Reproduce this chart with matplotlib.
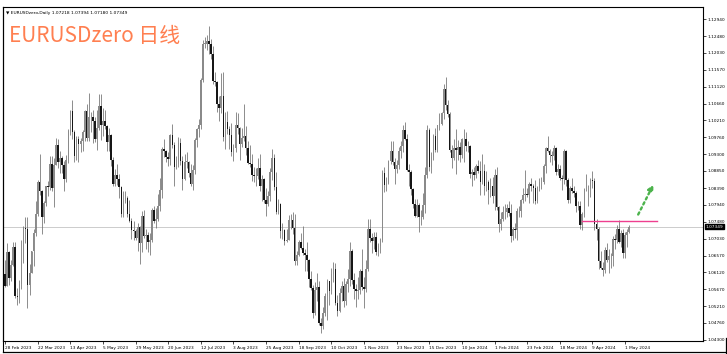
import numpy as np
import matplotlib
matplotlib.use("Agg")
import matplotlib.pyplot as plt
from matplotlib.transforms import blended_transform_factory
from matplotlib.lines import Line2D

# EURUSD daily bars, 28 Feb 2023 .. 3 May 2024 (one line per month)
opens = [
    1.0608,
    1.0576, 1.0668, 1.0596, 1.0633, 1.0681, 1.0548, 1.0545, 1.0582, 1.0642, 1.0731, 1.0729, 1.0577, 1.0610, 1.0669, 1.0718, 1.0770, 1.0856, 1.0831, 1.0760, 1.0800, 1.0845, 1.0843, 1.0905,
    1.0839, 1.0901, 1.0955, 1.0908, 1.0920, 1.0902, 1.0862, 1.0914, 1.0993, 1.1047, 1.0990, 1.0925, 1.0972, 1.0958, 1.0965, 1.0990, 1.1046, 1.0975, 1.1030, 1.1029,
    1.1019, 1.0972, 1.1000, 1.1060, 1.1010, 1.1020, 1.1005, 1.0962, 1.0983, 1.0914, 1.0850, 1.0875, 1.0862, 1.0843, 1.0770, 1.0805, 1.0812, 1.0770, 1.0751, 1.0725, 1.0723, 1.0705, 1.0735,
    1.0690, 1.0763, 1.0710, 1.0713, 1.0693, 1.0700, 1.0781, 1.0750, 1.0755, 1.0792, 1.0834, 1.0945, 1.0940, 1.0923, 1.0918, 1.0981, 1.0956, 1.0896, 1.0905, 1.0960, 1.0912, 1.0864,
    1.0910, 1.0910, 1.0880, 1.0850, 1.0887, 1.0968, 1.0997, 1.1009, 1.1130, 1.1228, 1.1228, 1.1236, 1.1227, 1.1200, 1.1128, 1.1124, 1.1064, 1.1055, 1.1086, 1.0977, 1.1016,
    1.0997, 1.0982, 1.0937, 1.0946, 1.1008, 1.1000, 1.0957, 1.0973, 1.0980, 1.0946, 1.0906, 1.0904, 1.0874, 1.0872, 1.0871, 1.0894, 1.0845, 1.0862, 1.0808, 1.0795, 1.0818, 1.0881, 1.0921,
    1.0843, 1.0775, 1.0795, 1.0723, 1.0725, 1.0697, 1.0699, 1.0752, 1.0752, 1.0732, 1.0643, 1.0660, 1.0693, 1.0677, 1.0663, 1.0658, 1.0645, 1.0594, 1.0571, 1.0503, 1.0565,
    1.0573, 1.0477, 1.0467, 1.0502, 1.0549, 1.0588, 1.0563, 1.0607, 1.0620, 1.0530, 1.0509, 1.0557, 1.0576, 1.0536, 1.0580, 1.0594, 1.0670, 1.0592, 1.0566, 1.0563, 1.0564, 1.0615,
    1.0573, 1.0568, 1.0621, 1.0728, 1.0704, 1.0697, 1.0708, 1.0668, 1.0683, 1.0700, 1.0880, 1.0848, 1.0853, 1.0912, 1.0940, 1.0909, 1.0889, 1.0902, 1.0940, 1.0953, 1.0996, 1.0971,
    1.0888, 1.0883, 1.0836, 1.0797, 1.0765, 1.0793, 1.0761, 1.0762, 1.0794, 1.0874, 1.0994, 1.0896, 1.0922, 1.0980, 1.0941, 1.1008, 1.1012, 1.1042, 1.1105, 1.1062,
    1.1038, 1.0942, 1.0920, 1.0946, 1.0941, 1.0950, 1.0929, 1.0972, 1.0970, 1.0951, 1.0951, 1.0877, 1.0883, 1.0875, 1.0898, 1.0885, 1.0855, 1.0884, 1.0845, 1.0855, 1.0833, 1.0845,
    1.0818, 1.0873, 1.0787, 1.0743, 1.0755, 1.0774, 1.0774, 1.0784, 1.0771, 1.0709, 1.0729, 1.0726, 1.0777, 1.0777, 1.0807, 1.0821, 1.0823, 1.0820, 1.0851, 1.0845, 1.0839,
    1.0804, 1.0838, 1.0855, 1.0855, 1.0898, 1.0947, 1.0938, 1.0927, 1.0925, 1.0947, 1.0883, 1.0890, 1.0867, 1.0864, 1.0940, 1.0860, 1.0807, 1.0838, 1.0830, 1.0825, 1.0790,
    1.0790, 1.0740, 1.0770, 1.0837, 1.0837, 1.0837, 1.0861, 1.0857, 1.0742, 1.0728, 1.0642, 1.0625, 1.0619, 1.0673, 1.0644, 1.0655, 1.0655, 1.0703, 1.0698, 1.0728, 1.0693, 1.0719,
    1.0665, 1.0712, 1.07218,
]
highs = [
    1.0646,
    1.0691, 1.0670, 1.0645, 1.0694, 1.0695, 1.0570, 1.0592, 1.0700, 1.0737, 1.0760, 1.0760, 1.0635, 1.0670, 1.0730, 1.0804, 1.0860, 1.0930, 1.0834, 1.0804, 1.0845, 1.0858, 1.0926, 1.0925,
    1.0920, 1.0973, 1.0970, 1.0940, 1.0925, 1.0912, 1.0927, 1.0998, 1.1050, 1.1075, 1.0995, 1.0980, 1.0980, 1.0975, 1.0995, 1.1048, 1.1066, 1.1095, 1.1044, 1.1050,
    1.1030, 1.1050, 1.1092, 1.1091, 1.1054, 1.1048, 1.1010, 1.1000, 1.0985, 1.0922, 1.0890, 1.0903, 1.0877, 1.0845, 1.0830, 1.0830, 1.0818, 1.0807, 1.0758, 1.0750, 1.0728, 1.0746, 1.0737,
    1.0778, 1.0779, 1.0729, 1.0720, 1.0717, 1.0785, 1.0790, 1.0786, 1.0823, 1.0865, 1.0950, 1.0970, 1.0942, 1.0935, 1.0985, 1.1012, 1.0962, 1.0925, 1.0976, 1.0975, 1.0925, 1.0930,
    1.0935, 1.0912, 1.0905, 1.0902, 1.0975, 1.1000, 1.1025, 1.1136, 1.1238, 1.1245, 1.1250, 1.1276, 1.1240, 1.1222, 1.1150, 1.1128, 1.1087, 1.1148, 1.1150, 1.1043, 1.1046,
    1.1005, 1.1013, 1.0957, 1.1043, 1.1042, 1.1002, 1.1000, 1.1065, 1.1005, 1.0966, 1.0954, 1.0930, 1.0896, 1.0892, 1.0920, 1.0930, 1.0875, 1.0866, 1.0840, 1.0830, 1.0893, 1.0945, 1.0930,
    1.0882, 1.0810, 1.0798, 1.0745, 1.0730, 1.0730, 1.0767, 1.0770, 1.0775, 1.0770, 1.0670, 1.0700, 1.0718, 1.0737, 1.0675, 1.0695, 1.0647, 1.0617, 1.0578, 1.0585, 1.0610,
    1.0590, 1.0490, 1.0520, 1.0557, 1.0595, 1.0590, 1.0625, 1.0640, 1.0638, 1.0550, 1.0570, 1.0590, 1.0597, 1.0588, 1.0620, 1.0695, 1.0675, 1.0610, 1.0580, 1.0600, 1.0620, 1.0675,
    1.0600, 1.0645, 1.0756, 1.0755, 1.0717, 1.0720, 1.0720, 1.0690, 1.0705, 1.0887, 1.0895, 1.0870, 1.0915, 1.0965, 1.0965, 1.0920, 1.0915, 1.0950, 1.0965, 1.1010, 1.1017, 1.0985,
    1.0905, 1.0887, 1.0840, 1.0810, 1.0810, 1.0800, 1.0780, 1.0827, 1.0895, 1.1009, 1.1000, 1.0935, 1.0985, 1.1000, 1.1010, 1.1040, 1.1045, 1.1120, 1.1139, 1.1075,
    1.1045, 1.0955, 1.0970, 1.0998, 1.0968, 1.0962, 1.0975, 1.0998, 1.0990, 1.0965, 1.0955, 1.0890, 1.0895, 1.0905, 1.0915, 1.0912, 1.0930, 1.0905, 1.0885, 1.0860, 1.0865, 1.0870,
    1.0890, 1.0895, 1.0790, 1.0775, 1.0790, 1.0795, 1.0795, 1.0805, 1.0795, 1.0735, 1.0745, 1.0785, 1.0790, 1.0810, 1.0840, 1.0888, 1.0840, 1.0855, 1.0865, 1.0850, 1.0860,
    1.0845, 1.0865, 1.0870, 1.0905, 1.0950, 1.0980, 1.0945, 1.0940, 1.0955, 1.0950, 1.0905, 1.0902, 1.0875, 1.0945, 1.0942, 1.0865, 1.0845, 1.0865, 1.0845, 1.0830, 1.0805,
    1.0805, 1.0775, 1.0840, 1.0877, 1.0848, 1.0865, 1.0885, 1.0866, 1.0757, 1.0735, 1.0670, 1.0640, 1.0680, 1.0690, 1.0675, 1.0665, 1.0710, 1.0715, 1.0740, 1.0752, 1.0725, 1.0730,
    1.0720, 1.0730, 1.07394,
]
lows = [
    1.0573,
    1.0575, 1.0577, 1.0588, 1.0630, 1.0544, 1.0524, 1.0530, 1.0566, 1.0637, 1.0690, 1.0516, 1.0550, 1.0610, 1.0630, 1.0710, 1.0763, 1.0820, 1.0714, 1.0745, 1.0790, 1.0818, 1.0835, 1.0830,
    1.0788, 1.0900, 1.0893, 1.0880, 1.0880, 1.0831, 1.0855, 1.0906, 1.0982, 1.0970, 1.0910, 1.0915, 1.0910, 1.0937, 1.0938, 1.0965, 1.0965, 1.0966, 1.0990, 1.0960,
    1.0964, 1.0942, 1.0995, 1.0967, 1.0980, 1.0998, 1.0940, 1.0940, 1.0898, 1.0845, 1.0845, 1.0848, 1.0812, 1.0760, 1.0760, 1.0800, 1.0760, 1.0747, 1.0702, 1.0700, 1.0700, 1.0670, 1.0635,
    1.0668, 1.0705, 1.0675, 1.0667, 1.0660, 1.0695, 1.0745, 1.0732, 1.0750, 1.0777, 1.0812, 1.0922, 1.0908, 1.0898, 1.0900, 1.0946, 1.0845, 1.0890, 1.0896, 1.0900, 1.0835, 1.0860,
    1.0894, 1.0870, 1.0844, 1.0833, 1.0877, 1.0950, 1.0977, 1.0998, 1.1125, 1.1215, 1.1210, 1.1200, 1.1185, 1.1120, 1.1115, 1.1043, 1.1020, 1.1040, 1.0965, 1.0945, 1.0985,
    1.0945, 1.0925, 1.0912, 1.0935, 1.0985, 1.0915, 1.0950, 1.0965, 1.0928, 1.0903, 1.0895, 1.0857, 1.0855, 1.0844, 1.0862, 1.0832, 1.0803, 1.0800, 1.0765, 1.0790, 1.0805, 1.0860, 1.0835,
    1.0770, 1.0770, 1.0705, 1.0702, 1.0686, 1.0695, 1.0698, 1.0730, 1.0715, 1.0632, 1.0632, 1.0655, 1.0675, 1.0658, 1.0617, 1.0615, 1.0573, 1.0564, 1.0490, 1.0496, 1.0535,
    1.0470, 1.0448, 1.0460, 1.0495, 1.0483, 1.0525, 1.0555, 1.0585, 1.0525, 1.0495, 1.0505, 1.0535, 1.0520, 1.0525, 1.0560, 1.0575, 1.0580, 1.0540, 1.0520, 1.0540, 1.0555, 1.0565,
    1.0517, 1.0560, 1.0615, 1.0695, 1.0665, 1.0675, 1.0660, 1.0655, 1.0665, 1.0695, 1.0828, 1.0830, 1.0850, 1.0905, 1.0900, 1.0850, 1.0880, 1.0890, 1.0920, 1.0935, 1.0967, 1.0885,
    1.0845, 1.0820, 1.0785, 1.0762, 1.0760, 1.0722, 1.0740, 1.0755, 1.0772, 1.0865, 1.0885, 1.0880, 1.0915, 1.0935, 1.0935, 1.0995, 1.1010, 1.1025, 1.1050, 1.1030,
    1.0935, 1.0892, 1.0915, 1.0877, 1.0915, 1.0910, 1.0920, 1.0910, 1.0940, 1.0935, 1.0865, 1.0845, 1.0860, 1.0865, 1.0880, 1.0820, 1.0850, 1.0820, 1.0830, 1.0795, 1.0815, 1.0800,
    1.0780, 1.0780, 1.0722, 1.0725, 1.0750, 1.0755, 1.0760, 1.0765, 1.0695, 1.0700, 1.0705, 1.0700, 1.0760, 1.0760, 1.0800, 1.0805, 1.0815, 1.0800, 1.0830, 1.0800, 1.0795,
    1.0800, 1.0830, 1.0837, 1.0850, 1.0880, 1.0935, 1.0910, 1.0900, 1.0915, 1.0875, 1.0875, 1.0860, 1.0835, 1.0850, 1.0845, 1.0800, 1.0800, 1.0825, 1.0815, 1.0775, 1.0780,
    1.0730, 1.0725, 1.0760, 1.0830, 1.0790, 1.0815, 1.0840, 1.0727, 1.0700, 1.0622, 1.0620, 1.0601, 1.0610, 1.0640, 1.0610, 1.0625, 1.0630, 1.0675, 1.0690, 1.0690, 1.0680, 1.0650,
    1.0650, 1.0680, 1.07180,
]
closes = [
    1.0576,
    1.0668, 1.0596, 1.0633, 1.0681, 1.0548, 1.0545, 1.0582, 1.0642, 1.0731, 1.0729, 1.0577, 1.0610, 1.0669, 1.0718, 1.0770, 1.0856, 1.0831, 1.0760, 1.0800, 1.0845, 1.0843, 1.0905, 1.0839,
    1.0901, 1.0955, 1.0908, 1.0920, 1.0902, 1.0862, 1.0914, 1.0993, 1.1047, 1.0990, 1.0925, 1.0972, 1.0958, 1.0965, 1.0990, 1.1046, 1.0975, 1.1030, 1.1029, 1.1019,
    1.0972, 1.1000, 1.1060, 1.1010, 1.1020, 1.1005, 1.0962, 1.0983, 1.0914, 1.0850, 1.0875, 1.0862, 1.0843, 1.0770, 1.0805, 1.0812, 1.0770, 1.0751, 1.0725, 1.0723, 1.0705, 1.0735, 1.0690,
    1.0763, 1.0710, 1.0713, 1.0693, 1.0700, 1.0781, 1.0750, 1.0755, 1.0792, 1.0834, 1.0945, 1.0940, 1.0923, 1.0918, 1.0981, 1.0956, 1.0896, 1.0905, 1.0960, 1.0912, 1.0864, 1.0910,
    1.0910, 1.0880, 1.0850, 1.0887, 1.0968, 1.0997, 1.1009, 1.1130, 1.1228, 1.1228, 1.1236, 1.1227, 1.1200, 1.1128, 1.1124, 1.1064, 1.1055, 1.1086, 1.0977, 1.1016, 1.0997,
    1.0982, 1.0937, 1.0946, 1.1008, 1.1000, 1.0957, 1.0973, 1.0980, 1.0946, 1.0906, 1.0904, 1.0874, 1.0872, 1.0871, 1.0894, 1.0845, 1.0862, 1.0808, 1.0795, 1.0818, 1.0881, 1.0921, 1.0843,
    1.0775, 1.0795, 1.0723, 1.0725, 1.0697, 1.0699, 1.0752, 1.0752, 1.0732, 1.0643, 1.0660, 1.0693, 1.0677, 1.0663, 1.0658, 1.0645, 1.0594, 1.0571, 1.0503, 1.0565, 1.0573,
    1.0477, 1.0467, 1.0502, 1.0549, 1.0588, 1.0563, 1.0607, 1.0620, 1.0530, 1.0509, 1.0557, 1.0576, 1.0536, 1.0580, 1.0594, 1.0670, 1.0592, 1.0566, 1.0563, 1.0564, 1.0615, 1.0573,
    1.0568, 1.0621, 1.0728, 1.0704, 1.0697, 1.0708, 1.0668, 1.0683, 1.0700, 1.0880, 1.0848, 1.0853, 1.0912, 1.0940, 1.0909, 1.0889, 1.0902, 1.0940, 1.0953, 1.0996, 1.0971, 1.0888,
    1.0883, 1.0836, 1.0797, 1.0765, 1.0793, 1.0761, 1.0762, 1.0794, 1.0874, 1.0994, 1.0896, 1.0922, 1.0980, 1.0941, 1.1008, 1.1012, 1.1042, 1.1105, 1.1062, 1.1038,
    1.0942, 1.0920, 1.0946, 1.0941, 1.0950, 1.0929, 1.0972, 1.0970, 1.0951, 1.0951, 1.0877, 1.0883, 1.0875, 1.0898, 1.0885, 1.0855, 1.0884, 1.0845, 1.0855, 1.0833, 1.0845, 1.0818,
    1.0873, 1.0787, 1.0743, 1.0755, 1.0774, 1.0774, 1.0784, 1.0771, 1.0709, 1.0729, 1.0726, 1.0777, 1.0777, 1.0807, 1.0821, 1.0823, 1.0820, 1.0851, 1.0845, 1.0839, 1.0804,
    1.0838, 1.0855, 1.0855, 1.0898, 1.0947, 1.0938, 1.0927, 1.0925, 1.0947, 1.0883, 1.0890, 1.0867, 1.0864, 1.0940, 1.0860, 1.0807, 1.0838, 1.0830, 1.0825, 1.0790, 1.0790,
    1.0740, 1.0770, 1.0837, 1.0837, 1.0837, 1.0861, 1.0857, 1.0742, 1.0728, 1.0642, 1.0625, 1.0619, 1.0673, 1.0644, 1.0655, 1.0655, 1.0703, 1.0698, 1.0728, 1.0693, 1.0719, 1.0665,
    1.0712, 1.0722, 1.07349,
]

date_labels = ["28 Feb 2023", "22 Mar 2023", "13 Apr 2023", "5 May 2023", "29 May 2023",
               "20 Jun 2023", "12 Jul 2023", "3 Aug 2023", "25 Aug 2023", "18 Sep 2023",
               "10 Oct 2023", "1 Nov 2023", "23 Nov 2023", "15 Dec 2023", "10 Jan 2024",
               "1 Feb 2024", "23 Feb 2024", "18 Mar 2024", "9 Apr 2024", "1 May 2024"]
date_ticks = [16 * k for k in range(len(date_labels))]  # MT4 labels every 16 bars

price_labels = ["1.04300", "1.04760", "1.05210", "1.05670", "1.06120", "1.06570", "1.07030",
                "1.07480", "1.07940", "1.08390", "1.08850", "1.09300", "1.09760", "1.10210",
                "1.10660", "1.11120", "1.11570", "1.12030", "1.12480", "1.12940"]

symbol = "EURUSDzero,Daily"
last_price = closes[-1]
resist_level = 1.0750
resist_from, resist_to = 283, 319.5
arrow_from = (309.8, 1.0761)
arrow_to = (318.5, 1.0855)

o = np.array(opens)
h = np.array(highs)
l = np.array(lows)
c = np.array(closes)
x = np.arange(len(c))

W, H = 727, 354
fig = plt.figure(figsize=(W / 100, H / 100), dpi=100)
fig.patch.set_facecolor("white")
ax = fig.add_axes([3 / W, 1 - 341 / H, (703 - 3) / W, (341 - 7) / H])

up = c >= o
ax.vlines(x, l, h, color="#6e6e6e", linewidth=0.55, zorder=2)
body = np.maximum(np.abs(c - o), 0.00006)
bottom = np.minimum(o, c)
ax.bar(x[up], body[up], bottom=bottom[up], width=0.75, color="#8a8a8a", linewidth=0, zorder=3)
ax.bar(x[~up], body[~up], bottom=bottom[~up], width=0.75, color="#161616", linewidth=0, zorder=3)

ax.axhline(last_price, color="#cccccc", linewidth=0.7, zorder=1)
ax.plot([resist_from, resist_to], [resist_level, resist_level], color="#ee3f8f", linewidth=1.0, zorder=4)
ax.annotate("", xy=arrow_to, xytext=arrow_from,
            arrowprops=dict(arrowstyle="-|>", color="#4cb34c", linestyle=(0, (1, 1.4)),
                            linewidth=1.7, mutation_scale=8), zorder=5)

ax.set_xlim(-1, 342.2)
ax.set_ylim(1.04273, 1.13263)

ax.yaxis.tick_right()
ax.set_yticks([float(s) for s in price_labels])
ax.set_yticklabels(price_labels)
ax.set_xticks(date_ticks)
ax.set_xticklabels(date_labels, ha="left")
ax.tick_params(axis="y", direction="out", length=2, width=0.5, pad=1.5, labelsize=3.1, colors="black")
ax.tick_params(axis="x", direction="out", length=2.5, width=0.5, pad=1, labelsize=3.1, colors="black")
for sp in ax.spines.values():
    sp.set_color("black")
    sp.set_linewidth(0.8)

trans = blended_transform_factory(ax.transAxes, ax.transData)
ax.text(1.004, last_price, "%.5f" % last_price, transform=trans, fontsize=3.1, color="white",
        va="center", ha="left",
        bbox=dict(boxstyle="square,pad=0.15", facecolor="black", edgecolor="black"))

fig.text(6 / W, 1 - 13 / H, "\u25bc %s %.5f %.5f %.5f %.5f" % (symbol, opens[-1], highs[-1], lows[-1], closes[-1]),
         fontsize=3.2, color="black", va="center", ha="left")
fig.text(9 / W, 1 - 36 / H, "EURUSDzero 日线", fontsize=15, color="#ff7f50", va="center", ha="left",
         family=["Noto Sans CJK SC", "DejaVu Sans"], fontweight="light")

# outer window frame
fig.add_artist(Line2D([2.5 / W, 2.5 / W], [0.006, 1 - 7 / H], color="black", linewidth=0.8))
fig.add_artist(Line2D([2.5 / W, 1.0], [1 - 352 / H, 1 - 352 / H], color="black", linewidth=0.9))
fig.add_artist(Line2D([725.5 / W, 725.5 / W], [0.0, 1 - 338 / H], color="black", linewidth=0.9))

fig.savefig("out.png", dpi=100)
